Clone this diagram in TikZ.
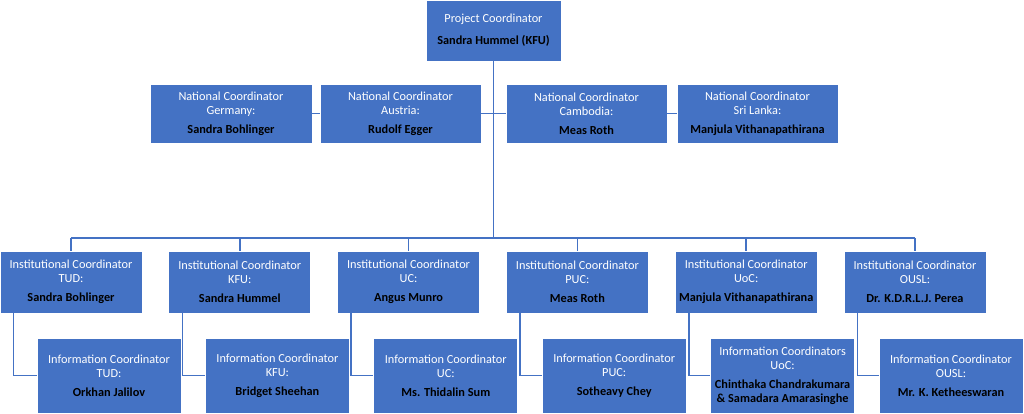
\documentclass[tikz,border=0pt]{standalone}
\usepackage{fontspec}
\setmainfont{Carlito}
\definecolor{boxblue}{HTML}{4472C4}
\newcommand\nm[1]{\textcolor{black}{\bfseries #1}}
\begin{document}
\begin{tikzpicture}[x=1pt,y=-1pt,
  box/.style={draw=white, line width=0.8pt, fill=boxblue, text=white, align=center,
    inner sep=0pt, font=\fontsize{12.3}{14}\selectfont},
  topbox/.style={box, minimum width=135pt, minimum height=61pt},
  natbox/.style={box, minimum width=161pt, minimum height=59pt},
  instbox/.style={box, minimum width=142pt, minimum height=62pt},
  infobox/.style={box, minimum width=144pt, minimum height=75pt},
  link/.style={draw=boxblue, line width=1.5pt}]
\useasboundingbox (0,0) rectangle (1024,413);
\clip (0,0) rectangle (1024,413);

% top
\node[topbox] (top) at (493.5,30.5) {Project Coordinator\\[8pt]\nm{Sandra Hummel (KFU)}};

% national
\node[natbox, minimum width=162pt] (ger) at (231,113.5) {National Coordinator\\Germany:\\[5pt]\nm{Sandra Bohlinger}};
\node[natbox] (aut) at (400.5,113.5) {National Coordinator\\Austria:\\[5pt]\nm{Rudolf Egger}};
\node[natbox] (cam) at (586.5,113.5) {National Coordinator\\Cambodia:\\[5pt]\nm{Meas Roth}};
\node[natbox] (sri) at (757.5,113.5) {National Coordinator\\Sri Lanka:\\[5pt]\nm{Manjula Vithanapathirana}};

% institutional
\node[instbox] (i1) at (71,282) {Institutional Coordinator\\TUD:\\[5pt]\nm{Sandra Bohlinger}};
\node[instbox] (i2) at (239.8,282) {Institutional Coordinator\\KFU:\\[5pt]\nm{Sandra Hummel}};
\node[instbox] (i3) at (408.6,282) {Institutional Coordinator\\UC:\\[5pt]\nm{Angus Munro}};
\node[instbox] (i4) at (577.4,282) {Institutional Coordinator\\PUC:\\[5pt]\nm{Meas Roth}};
\node[instbox] (i5) at (746.2,282) {Institutional Coordinator\\UoC:\\[5pt]\nm{Manjula Vithanapathirana}};
\node[instbox] (i6) at (915,282) {Institutional Coordinator\\OUSL:\\[5pt]\nm{Dr. K.D.R.L.J. Perea}};

% information
\node[infobox] (n1) at (109,375.5) {Information Coordinator\\TUD:\\[5pt]\nm{Orkhan Jalilov}};
\node[infobox] (n2) at (277.4,375.5) {Information Coordinator\\KFU:\\[5pt]\nm{Bridget Sheehan}};
\node[infobox] (n3) at (445.8,375.5) {Information Coordinator\\UC:\\[5pt]\nm{Ms. Thidalin Sum}};
\node[infobox] (n4) at (614.2,375.5) {Information Coordinator\\PUC:\\[5pt]\nm{Sotheavy Chey}};
\node[infobox] (n5) at (782.6,375.5) {Information Coordinators\\UoC:\\[5pt]\nm{Chinthaka Chandrakumara}\\\nm{\& Samadara Amarasinghe}};
\node[infobox] (n6) at (951,375.5) {Information Coordinator\\OUSL:\\[5pt]\nm{Mr. K. Ketheeswaran}};

% connectors
\coordinate (busL) at (71,238);
\draw[link] (top.south) -- (top.south |- busL);
\draw[link] (i1.north |- busL) -- (i6.north |- busL);
\foreach \i in {1,...,6} {
  \draw[link] (i\i.north) -- (i\i.north |- busL);
  \draw[link] ([xshift=14pt]i\i.south west) |- (n\i.west);
}
\draw[link] (ger.east) -- (aut.west);
\draw[link] (aut.east) -- (cam.west);
\draw[link] (cam.east) -- (sri.west);
\end{tikzpicture}
\end{document}
